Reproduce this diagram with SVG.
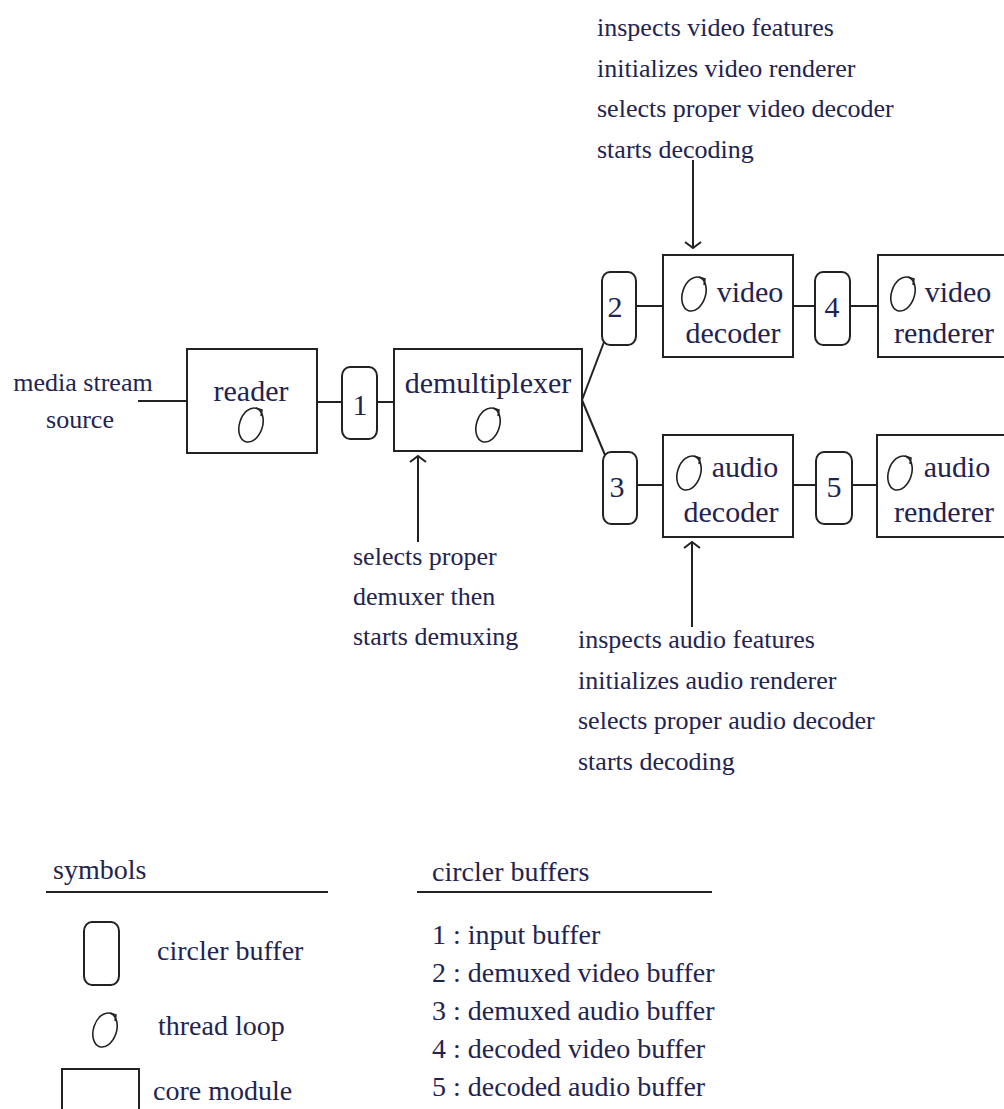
<svg xmlns="http://www.w3.org/2000/svg" xmlns:xlink="http://www.w3.org/1999/xlink" width="1004" height="1109" viewBox="0 0 1004 1109">
<style>
  text { font-family: "Liberation Serif", "Times New Roman", serif; fill: #23234f; }
  .lbl { font-size: 30px; }
  .ann { font-size: 26px; }
  .leg { font-size: 28px; }
  .box { fill: #fff; stroke: #222; stroke-width: 2; }
  .buf { fill: #fff; stroke: #222; stroke-width: 2; }
  .ln { fill: none; stroke: #222; stroke-width: 2; }
  .loop { fill: none; stroke: #222; stroke-width: 1.6; }
</style>
<defs>
  <marker id="chev" markerUnits="userSpaceOnUse" markerWidth="20" markerHeight="20" viewBox="-10 -10 20 20" refX="0" refY="0" orient="auto" overflow="visible">
    <path d="M-6,-8 L0,0 L-6,8" fill="none" stroke="#222" stroke-width="2"/>
  </marker>
  <g id="loop">
    <ellipse class="loop" cx="0" cy="0" rx="11.5" ry="17.5" transform="rotate(18)"/>
    <path class="loop" d="M 5,-17 L 11,-15 L 10,-9"/>
  </g>
</defs>
<rect width="1004" height="1109" fill="#fff"/>

<g id="connectors">
  <line class="ln" x1="138" y1="401" x2="187" y2="401"/>
  <line class="ln" x1="317" y1="402" x2="342" y2="402"/>
  <line class="ln" x1="377" y1="402" x2="394" y2="402"/>
  <line class="ln" x1="582" y1="400" x2="604" y2="342"/>
  <line class="ln" x1="582" y1="400" x2="605" y2="455"/>
  <line class="ln" x1="636" y1="306" x2="663" y2="306"/>
  <line class="ln" x1="793" y1="306" x2="815" y2="306"/>
  <line class="ln" x1="850" y1="306" x2="878" y2="306"/>
  <line class="ln" x1="637" y1="485" x2="663" y2="485"/>
  <line class="ln" x1="793" y1="485" x2="816" y2="485"/>
  <line class="ln" x1="852" y1="485" x2="877" y2="485"/>
  <line class="ln" x1="693" y1="160" x2="693" y2="248" marker-end="url(#chev)"/>
  <line class="ln" x1="418" y1="542" x2="418" y2="456" marker-end="url(#chev)"/>
  <line class="ln" x1="692" y1="627" x2="692" y2="542" marker-end="url(#chev)"/>
</g>

<g id="media-source">
  <text class="ann" x="83" y="391" text-anchor="middle">media stream</text>
  <text class="ann" x="80" y="428" text-anchor="middle">source</text>
</g>

<g id="reader">
  <rect class="box" x="187" y="349" width="130" height="104"/>
  <text class="lbl" x="251" y="401" text-anchor="middle">reader</text>
  <use xlink:href="#loop" href="#loop" x="251" y="425"/>
</g>

<g id="buffer1">
  <rect class="buf" x="342" y="367" width="35" height="72" rx="8" ry="9"/>
  <text class="lbl" x="360" y="415" text-anchor="middle">1</text>
</g>

<g id="demultiplexer">
  <rect class="box" x="394" y="349" width="188" height="102"/>
  <text class="lbl" x="488" y="393" text-anchor="middle">demultiplexer</text>
  <use xlink:href="#loop" href="#loop" x="488" y="425"/>
</g>

<g id="buffer2">
  <rect class="buf" x="602" y="272" width="34" height="73" rx="8" ry="9"/>
  <text class="lbl" x="615" y="317" text-anchor="middle">2</text>
</g>

<g id="video-decoder">
  <rect class="box" x="663" y="255" width="130" height="102"/>
  <use xlink:href="#loop" href="#loop" x="694" y="294"/>
  <text class="lbl" x="750" y="302" text-anchor="middle">video</text>
  <text class="lbl" x="733" y="343" text-anchor="middle">decoder</text>
</g>

<g id="buffer4">
  <rect class="buf" x="815" y="272" width="35" height="73" rx="8" ry="9"/>
  <text class="lbl" x="832" y="317" text-anchor="middle">4</text>
</g>

<g id="video-renderer">
  <rect class="box" x="878" y="255" width="140" height="102"/>
  <use xlink:href="#loop" href="#loop" x="903" y="294"/>
  <text class="lbl" x="958" y="302" text-anchor="middle">video</text>
  <text class="lbl" x="944" y="343" text-anchor="middle">renderer</text>
</g>

<g id="buffer3">
  <rect class="buf" x="603" y="452" width="34" height="72" rx="8" ry="9"/>
  <text class="lbl" x="617" y="497" text-anchor="middle">3</text>
</g>

<g id="audio-decoder">
  <rect class="box" x="663" y="435" width="130" height="102"/>
  <use xlink:href="#loop" href="#loop" x="689" y="473"/>
  <text class="lbl" x="745" y="477" text-anchor="middle">audio</text>
  <text class="lbl" x="731" y="522" text-anchor="middle">decoder</text>
</g>

<g id="buffer5">
  <rect class="buf" x="816" y="452" width="36" height="72" rx="8" ry="9"/>
  <text class="lbl" x="834" y="497" text-anchor="middle">5</text>
</g>

<g id="audio-renderer">
  <rect class="box" x="877" y="435" width="140" height="102"/>
  <use xlink:href="#loop" href="#loop" x="900" y="473"/>
  <text class="lbl" x="957" y="477" text-anchor="middle">audio</text>
  <text class="lbl" x="944" y="522" text-anchor="middle">renderer</text>
</g>

<g id="video-note">
  <text class="ann" x="597" y="36">inspects video features</text>
  <text class="ann" x="597" y="77">initializes video renderer</text>
  <text class="ann" x="597" y="117">selects proper video decoder</text>
  <text class="ann" x="597" y="158">starts decoding</text>
</g>

<g id="demux-note">
  <text class="ann" x="353" y="565">selects proper</text>
  <text class="ann" x="353" y="605">demuxer then</text>
  <text class="ann" x="353" y="645">starts demuxing</text>
</g>

<g id="audio-note">
  <text class="ann" x="578" y="648">inspects audio features</text>
  <text class="ann" x="578" y="689">initializes audio renderer</text>
  <text class="ann" x="578" y="729">selects proper audio decoder</text>
  <text class="ann" x="578" y="770">starts decoding</text>
</g>

<g id="legend-symbols">
  <text class="leg" x="53" y="879">symbols</text>
  <line class="ln" x1="46" y1="892" x2="328" y2="892"/>
  <rect class="buf" x="84" y="922" width="35" height="63" rx="8" ry="9"/>
  <text class="leg" x="157" y="960">circler buffer</text>
  <use xlink:href="#loop" href="#loop" x="105" y="1030"/>
  <text class="leg" x="158" y="1035">thread loop</text>
  <rect class="box" x="62" y="1069" width="77" height="60"/>
  <text class="leg" x="153" y="1100">core module</text>
</g>

<g id="legend-buffers">
  <text class="leg" x="432" y="881">circler buffers</text>
  <line class="ln" x1="417" y1="892" x2="712" y2="892"/>
  <text class="leg" x="432" y="944">1 : input buffer</text>
  <text class="leg" x="432" y="982">2 : demuxed video buffer</text>
  <text class="leg" x="432" y="1020">3 : demuxed audio buffer</text>
  <text class="leg" x="432" y="1058">4 : decoded video buffer</text>
  <text class="leg" x="432" y="1096">5 : decoded audio buffer</text>
</g>
</svg>
